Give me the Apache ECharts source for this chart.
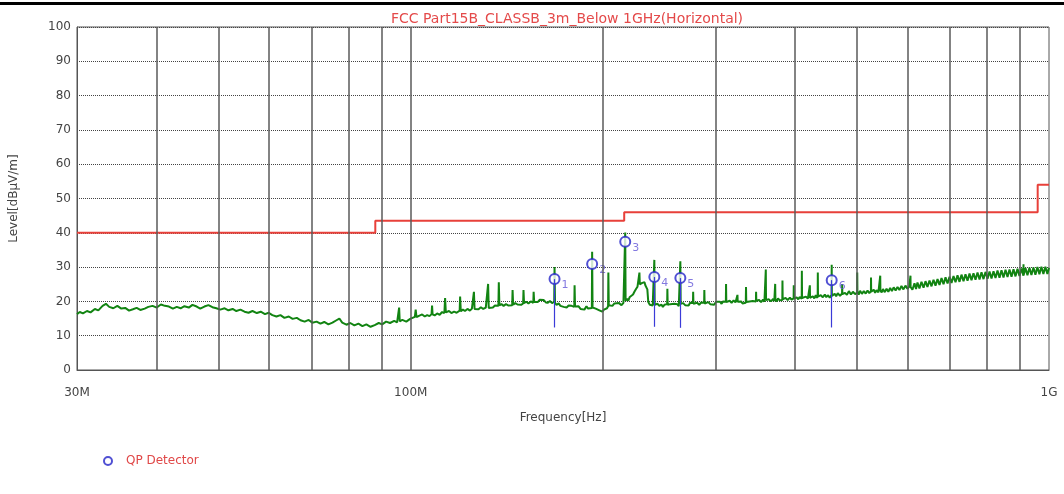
<!DOCTYPE html>
<html>
<head>
<meta charset="utf-8">
<script src="https://cdn.jsdelivr.net/npm/echarts@6/dist/echarts.min.js"></script>
<style>
  html, body { margin: 0; padding: 0; background: #fff; }
  #chart { width: 1064px; height: 494px; }
</style>
</head>
<body>
<div id="chart"></div>
<script>
// frequencies in MHz, levels in dBuV/m
const gridMHz = [40, 50, 60, 70, 80, 90, 100, 200, 300, 400, 500, 600, 700, 800, 900];
const tickMHz = [30, 100, 1000];

const limitMHz = [30, 88, 216, 960, 1000];
const limitLevel = [40, 43.5, 46, 54, 54];

const trace = [
  [30.0,16.3],[30.3,16.9],[30.65,16.5],[31.1,17.2],[31.5,16.8],[32.0,17.8],[32.4,17.4],[32.9,18.7],[33.3,19.3],[33.7,18.4],
  [34.2,18.0],[34.7,18.7],[35.2,17.9],[35.7,18.1],[36.2,17.3],[36.7,17.7],[37.2,18.1],[37.7,17.5],[38.3,17.9],[38.8,18.4],
  [39.4,18.7],[40.0,18.2],[40.6,19.1],[41.2,18.7],[41.8,18.5],[42.4,17.9],[43.0,18.4],[43.6,18.0],[44.2,18.6],[44.9,18.2],
  [45.5,19.0],[46.2,18.5],[46.8,17.9],[47.5,18.5],[48.2,18.9],[48.9,18.3],[49.6,18.0],[50.3,17.6],[51.1,18.0],[51.8,17.4],
  [52.6,17.8],[53.3,17.2],[54.1,17.6],[54.9,17.0],[55.7,16.7],[56.5,17.2],[57.4,16.6],[58.2,17.0],[59.1,16.3],[59.9,16.7],
  [60.7,16.0],[61.6,15.6],[62.5,16.0],[63.4,15.2],[64.4,15.6],[65.3,14.9],[66.3,15.2],[67.2,14.5],[68.2,14.1],[69.2,14.6],
  [70.1,13.8],[71.2,14.1],[72.2,13.5],[73.2,14.0],[74.3,13.3],[75.4,13.8],[76.5,14.5],[77.3,15.0],[78.1,13.8],[79.3,13.2],
  [80.4,13.7],[81.6,13.0],[82.8,13.5],[84.0,12.8],[85.2,13.3],[86.5,12.6],[87.8,13.1],[89.1,13.7],[90.2,13.3],[91.5,14.1],
  [92.8,13.7],[94.2,14.3],[95.2,13.9],[95.7,14.1],[95.9,18.2],[96.1,14.2],[97.0,14.6],[98.4,14.1],[99.8,14.9],[100.5,15.1],
  [101.5,15.5],[101.8,17.6],[102.1,15.4],[103.0,15.8],[104.2,16.2],[105.2,15.6],[106.1,16.0],[107.0,15.7],[107.8,16.3],[108.0,18.8],
  [108.2,16.2],[109.0,15.9],[110.0,16.5],[111.0,16.1],[112.0,16.9],[112.9,16.6],[113.2,21.0],[113.5,16.8],[114.8,17.2],[115.8,16.6],
  [116.9,17.0],[118.0,16.7],[119.3,17.3],[119.5,21.4],[119.8,17.1],[120.7,17.6],[121.6,17.2],[122.7,17.8],[123.8,17.3],[124.7,17.9],
  [125.4,17.6],[125.6,22.8],[125.9,17.8],[126.8,18.2],[127.7,17.7],[128.8,18.3],[129.9,17.8],[131.1,18.2],[132.0,18.0],[132.2,25.1],
  [132.5,18.1],[133.4,18.6],[134.5,18.2],[135.5,18.8],[136.4,18.4],[137.2,18.7],[137.4,25.6],[137.7,18.8],[138.7,19.2],[139.8,18.7],
  [141.0,19.2],[142.3,18.8],[143.3,19.3],[144.2,18.9],[144.4,23.3],[144.7,19.0],[145.8,19.5],[147.0,19.1],[148.0,19.6],[148.9,19.0],
  [150.0,19.4],[150.2,23.3],[150.5,19.5],[151.7,19.9],[152.9,19.4],[154.2,20.0],[155.6,19.6],[155.8,22.8],[156.1,19.8],[157.0,20.3],
  [158.1,19.8],[159.3,20.5],[160.4,20.0],[161.6,20.4],[162.8,19.7],[164.0,19.6],[165.2,20.1],[166.5,19.5],[167.8,19.9],[168.0,30.0],
  [168.3,19.6],[169.2,19.0],[170.5,19.4],[171.6,18.7],[172.4,19.1],[173.6,18.4],[174.8,18.9],[175.5,18.2],[176.8,18.8],[178.0,18.3],
  [178.7,18.7],[180.4,18.4],[180.6,24.7],[180.9,18.5],[181.9,18.0],[183.1,18.6],[184.5,17.8],[185.8,18.3],[187.1,17.6],[188.5,18.6],
  [189.6,17.9],[190.4,18.3],[192.2,18.1],[192.4,34.5],[192.7,18.2],[193.6,18.7],[194.9,17.9],[196.2,18.3],[197.5,17.4],[198.7,17.8],
  [199.6,17.0],[200.8,17.6],[201.8,17.3],[203.0,18.0],[203.8,18.6],[204.0,28.4],[204.3,18.9],[205.5,19.2],[207.0,18.7],[208.5,19.4],
  [210.0,19.0],[212.0,19.5],[213.9,18.9],[215.4,19.6],[216.6,19.4],[216.8,40.1],[217.1,20.2],[218.3,20.8],[219.2,20.2],[220.4,21.3],
  [221.7,20.9],[223.0,22.0],[224.1,22.8],[225.4,23.6],[226.6,24.3],[227.6,24.8],[228.0,24.9],[228.2,28.4],[228.5,25.0],[229.8,24.6],
  [230.6,25.4],[231.5,25.0],[232.4,25.6],[233.1,24.7],[234.0,24.2],[234.8,23.5],[235.6,19.8],[236.9,19.0],[238.2,19.5],[239.4,18.8],
  [240.6,19.2],[240.8,32.1],[241.1,19.0],[242.3,18.6],[243.5,19.3],[245.2,18.7],[247.0,19.1],[248.3,18.4],[249.7,19.0],[251.0,18.6],
  [252.2,19.2],[252.4,23.7],[252.7,19.0],[253.8,18.6],[255.1,19.2],[256.9,18.7],[258.8,19.3],[260.2,18.8],[261.6,19.2],[263.0,18.6],
  [264.3,19.1],[264.5,31.7],[264.8,19.3],[266.0,18.9],[267.2,19.5],[269.1,18.9],[271.0,19.3],[272.5,18.8],[274.0,19.6],[275.5,19.1],
  [276.8,19.5],[277.0,22.8],[277.3,19.3],[279.0,18.9],[281.0,19.6],[283.1,19.0],[285.2,19.7],[286.8,19.2],[288.2,19.6],[288.4,23.3],
  [288.7,19.4],[290.6,19.0],[292.5,19.8],[294.6,19.2],[296.7,19.6],[298.8,19.0],[300.9,19.9],[303.0,19.4],[305.2,19.9],[306.9,19.3],
  [308.6,20.0],[310.2,19.5],[311.7,19.9],[311.9,25.1],[312.2,19.8],[314.0,19.4],[316.0,20.2],[318.2,19.6],[320.5,20.3],[322.7,19.7],
  [324.8,20.1],[325.0,21.9],[325.3,19.9],[327.3,19.4],[329.3,20.0],[331.0,19.4],[332.8,19.9],[334.9,19.6],[335.2,24.2],[335.5,19.8],
  [337.8,19.3],[339.5,20.0],[341.3,19.5],[343.4,20.1],[345.6,19.6],[347.4,20.0],[347.6,22.8],[347.9,20.2],[349.5,19.7],[351.4,20.4],
  [353.9,19.8],[356.4,20.5],[358.2,19.9],[359.8,20.3],[360.0,29.3],[360.3,20.4],[362.2,19.9],[364.1,20.6],[366.8,20.0],[369.6,20.7],
  [371.2,20.1],[372.2,20.5],[372.4,25.1],[372.7,20.6],[374.5,20.0],[376.2,20.9],[378.6,20.3],[380.8,20.8],[382.1,20.4],[382.3,26.1],
  [382.6,20.6],[384.5,20.1],[386.6,21.0],[389.6,20.4],[392.7,21.1],[395.0,20.5],[398.0,20.9],[398.2,24.7],[398.5,20.8],[400.5,20.3],
  [402.4,21.2],[404.8,20.6],[406.8,21.3],[409.8,20.8],[410.0,28.9],[410.3,21.0],[413.0,20.5],[416.0,21.4],[419.0,20.8],[421.8,21.3],
  [422.0,24.7],[422.3,21.0],[424.5,20.6],[426.5,21.5],[428.8,20.9],[431.1,21.8],[432.8,21.0],[434.1,21.6],[434.3,28.4],[434.6,21.4],
  [436.8,20.9],[439.0,21.8],[442.2,21.2],[445.4,22.0],[447.8,21.2],[450.2,21.8],[453.4,21.1],[456.4,21.9],[456.6,30.7],[456.9,21.6],
  [459.2,21.2],[461.6,22.2],[464.0,21.5],[466.7,22.4],[470.5,21.6],[474.0,22.3],[474.2,25.1],[474.5,22.1],[476.8,21.6],[479.1,22.5],
  [482.4,21.9],[485.8,23.0],[489.4,22.0],[492.9,22.8],[496.8,22.1],[500.5,22.6],[500.7,28.4],[501.0,22.9],[503.3,22.0],[505.8,23.1],
  [509.2,22.2],[512.7,23.0],[516.2,22.3],[519.7,23.2],[523.0,22.4],[526.0,23.0],[526.2,27.0],[526.5,22.8],[528.8,22.3],[531.4,23.4],
  [534.1,22.5],[536.8,23.3],[540.4,22.6],[543.8,23.1],[544.0,27.5],[544.3,23.2],[546.8,22.6],[549.4,23.6],[553.0,22.7],[556.5,23.7],
  [560.1,22.8],[563.8,23.9],[567.4,23.0],[571.0,24.1],[575.0,23.2],[579.0,24.2],[583.0,23.3],[587.3,24.5],[591.5,23.5],[595.8,24.6],
  [600.0,23.7],[604.0,24.3],[606.5,24.0],[606.7,27.5],[607.0,24.2],[611.0,23.4],[615.5,25.3],[619.0,23.6],[622.2,25.5],[626.6,23.8],
  [631.3,25.7],[636.0,24.0],[640.5,25.9],[645.0,24.2],[649.8,26.1],[654.5,24.4],[659.3,26.3],[664.0,24.6],[668.9,26.5],[673.7,24.8],
  [678.6,26.8],[683.5,25.0],[688.5,27.0],[693.5,25.2],[698.5,27.2],[703.5,25.4],[708.6,27.4],[713.7,25.6],[718.9,27.6],[724.1,25.7],
  [729.3,27.8],[734.6,25.9],[739.9,27.9],[745.3,26.0],[750.7,28.1],[756.1,26.2],[761.6,28.2],[767.1,26.3],[772.7,28.4],[778.3,26.4],
  [783.9,28.5],[789.6,26.5],[795.3,28.6],[801.1,26.6],[806.9,28.7],[812.7,26.7],[818.6,28.8],[824.5,26.8],[830.5,29.0],[836.5,26.9],
  [842.5,29.1],[848.6,27.0],[854.8,29.2],[861.0,27.1],[867.2,29.3],[873.5,27.2],[879.8,29.4],[886.2,27.3],[892.6,29.5],[899.0,27.4],
  [905.5,29.6],[911.8,27.5],[912.1,30.8],[912.4,27.6],[918.6,29.7],[925.2,27.6],[931.9,29.8],[938.6,27.7],[945.4,29.9],[952.2,27.8],
  [959.1,30.0],[966.0,27.9],[973.0,30.1],[980.0,28.0],[987.1,30.1],[994.2,28.0],[1000,29.8]
];

const qpNames = ['1', '2', '3', '4', '5', '6'];
const qpMHz = [168.0, 192.4, 216.8, 240.8, 264.5, 456.6];
const qpLevel = [26.5, 30.9, 37.4, 27.1, 26.8, 26.2];
const qpLow = [12.4, null, null, 12.6, 12.3, 12.4];

const font = 'DejaVu Sans';
const red = '#e8403a';
const blue = '#2424c8';

const chart = echarts.init(document.getElementById('chart'));

const qpLines = [];
qpMHz.forEach((f, i) => {
  if (qpLow[i] != null) {
    qpLines.push([{ coord: [f, qpLow[i]] }, { coord: [f, qpLevel[i]] }]);
  }
});

chart.setOption({
  animation: false,
  title: {
    text: 'FCC Part15B_CLASSB_3m_Below 1GHz(Horizontal)',
    left: 562,
    textAlign: 'center',
    top: 7,
    textStyle: { color: '#e44a4a', fontSize: 14, fontWeight: 'normal', fontFamily: font }
  },
  graphic: [{
    type: 'rect',
    shape: { x: 0, y: 2, width: 1064, height: 3 },
    style: { fill: '#000' },
    silent: true
  }],
  legend: {
    left: 98,
    top: 450,
    itemWidth: 8,
    itemHeight: 8,
    selectedMode: false,
    data: [{ name: 'QP Detector', icon: 'emptyCircle' }],
    textStyle: { color: '#e04848', fontSize: 12, fontFamily: font, padding: [0, 0, 0, 9] }
  },
  grid: {
    left: 74, right: 15, top: 27, bottom: 124,
    show: true, borderColor: '#555', borderWidth: 1
  },
  xAxis: {
    type: 'log',
    logBase: 10,
    min: 30,
    max: 1000,
    name: 'Frequency[Hz]',
    nameLocation: 'middle',
    nameGap: 42,
    nameTextStyle: { color: '#444', fontSize: 12, fontFamily: font },
    axisLine: { lineStyle: { color: '#555' } },
    axisTick: { show: false },
    splitLine: { show: false },
    axisLabel: {
      customValues: tickMHz,
      margin: 17,
      color: '#444',
      fontSize: 12,
      fontFamily: font,
      formatter: v => (v >= 999 ? '1G' : Math.round(v) + 'M')
    }
  },
  yAxis: {
    type: 'value',
    min: 0,
    max: 100,
    interval: 10,
    name: 'Level[dBμV/m]',
    nameLocation: 'middle',
    nameGap: 57,
    nameTextStyle: { color: '#444', fontSize: 12, fontFamily: font },
    axisLine: { show: true, lineStyle: { color: '#555' } },
    axisTick: { show: false },
    axisLabel: { margin: 6, color: '#444', fontSize: 12, fontFamily: font },
    splitLine: { lineStyle: { color: '#444', type: 'dotted', width: 1 } }
  },
  series: [
    {
      name: 'grid',
      type: 'line',
      data: [],
      z: 1,
      silent: true,
      markLine: {
        silent: true,
        symbol: ['none', 'none'],
        label: { show: false },
        lineStyle: { color: '#5a5a5a', type: 'solid', width: 1.5 },
        data: gridMHz.map(f => ({ xAxis: f }))
      }
    },
    {
      name: 'Limit',
      type: 'line',
      step: 'end',
      symbol: 'none',
      z: 2,
      silent: true,
      lineStyle: { color: red, width: 2 },
      data: limitMHz.map((f, i) => [f, limitLevel[i]])
    },
    {
      name: 'Trace',
      type: 'line',
      symbol: 'none',
      z: 3,
      silent: true,
      lineStyle: { color: '#128412', width: 2 },
      data: trace
    },
    {
      name: 'QP Detector',
      type: 'scatter',
      symbol: 'emptyCircle',
      symbolSize: 10,
      z: 4,
      itemStyle: { color: blue, borderWidth: 2 },
      labelLayout: { hideOverlap: false },
      label: {
        show: true,
        position: [13, 7],
        color: '#6457d8',
        fontSize: 11,
        fontFamily: font,
        formatter: p => qpNames[p.dataIndex]
      },
      markLine: {
        silent: true,
        symbol: ['none', 'none'],
        label: { show: false },
        lineStyle: { color: '#3b3bd8', type: 'solid', width: 1.2 },
        data: qpLines
      },
      data: qpMHz.map((f, i) => [f, qpLevel[i]])
    }
  ]
});
</script>
</body>
</html>
